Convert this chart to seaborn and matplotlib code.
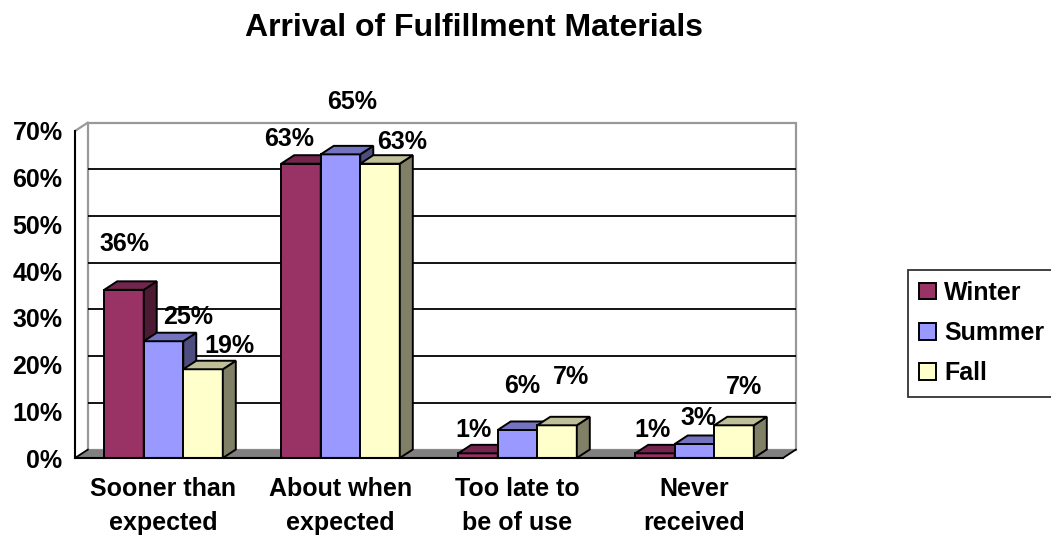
import numpy as np
import pandas as pd
import matplotlib
matplotlib.use("Agg")
import matplotlib.pyplot as plt
import seaborn as sns
from matplotlib.patches import Polygon, Rectangle, Patch

# ==========================================
# DATA
# ==========================================
CATEGORIES = ["Sooner than\nexpected", "About when\nexpected", "Too late to\nbe of use", "Never\nreceived"]
SEASONS = ["Winter", "Summer", "Fall"]
WINTER = [36, 63, 1, 1]
SUMMER = [25, 65, 6, 3]
FALL = [19, 63, 7, 7]
Y_TICKS = [0, 10, 20, 30, 40, 50, 60, 70]

# ==========================================
# STYLE
# ==========================================
COLORS = {"Winter": "#993366", "Summer": "#9999ff", "Fall": "#ffffcc"}
DEPTH_PX = (13, 8.5)          # 3D depth offset in pixels (right, up)
# label offsets from (bar centre, bar top) in pixels, per season per category
LABEL_OFFSETS = {
    "Winter": [(1, 46), (-12, 25), (-4, 23), (-2, 23)],
    "Summer": [(25, 24), (12, 52), (5, 44), (4, 26)],
    "Fall":   [(26, 23), (22, 22), (14, 48), (10, 38)],
}
FS = 18

sns.set_style("white")
plt.rcParams["font.family"] = ["Liberation Sans", "DejaVu Sans"]
plt.rcParams["font.weight"] = "bold"
plt.rcParams["text.color"] = "black"
plt.rcParams["xtick.color"] = "black"
plt.rcParams["ytick.color"] = "black"
plt.rcParams["axes.labelcolor"] = "black"


def shade(hex_color, f):
    r, g, b = matplotlib.colors.to_rgb(hex_color)
    return (r * f, g * f, b * f)


def main():
    df = pd.DataFrame({
        "Category": CATEGORIES * 3,
        "Season": np.repeat(SEASONS, len(CATEGORIES)),
        "Value": WINTER + SUMMER + FALL,
    })

    W, H = 1051, 538
    fig = plt.figure(figsize=(W / 100, H / 100), dpi=100)
    ax = fig.add_axes([75 / W, 1 - 458 / H, 708 / W, 327 / H])
    ax.patch.set_visible(False)

    sns.barplot(data=df, x="Category", y="Value", hue="Season",
                order=CATEGORIES, hue_order=SEASONS, palette=COLORS,
                saturation=1, width=0.67, edgecolor="black", linewidth=1.4,
                legend=False, ax=ax)

    xmin, xmax = -0.5, len(CATEGORIES) - 0.5
    ymin, ymax = Y_TICKS[0], Y_TICKS[-1]
    ax.set_xlim(xmin, xmax)
    ax.set_ylim(ymin, ymax)

    # pixel -> data conversion for the depth offset
    dxu = DEPTH_PX[0] * (xmax - xmin) / 708
    dyu = DEPTH_PX[1] * (ymax - ymin) / 327

    # back wall + floor
    ax.add_patch(Rectangle((xmin + dxu, ymin + dyu), xmax - xmin, ymax - ymin,
                           facecolor="white", edgecolor="#999999", lw=1.6,
                           clip_on=False, zorder=0.2))
    ax.hlines([v + dyu for v in Y_TICKS[1:-1]], xmin + dxu, xmax + dxu,
              color="black", lw=1.3, clip_on=False, zorder=0.3)
    ax.add_patch(Polygon([(xmin, ymin), (xmax, ymin), (xmax + dxu, ymin + dyu),
                          (xmin + dxu, ymin + dyu)], closed=True,
                         facecolor="#808080", edgecolor="none",
                         clip_on=False, zorder=0.4))
    ax.plot([xmin, xmin + dxu], [ymin, ymin + dyu], color="black", lw=1.3,
            clip_on=False, zorder=0.5)
    ax.plot([xmax, xmax + dxu], [ymin, ymin + dyu], color="black", lw=1.3,
            clip_on=False, zorder=0.5)
    ax.plot([xmin, xmin + dxu], [ymax, ymax + dyu], color="#999999", lw=1.6,
            clip_on=False, zorder=0.5)

    # 3D faces for every bar + data labels
    for i, (season, cont) in enumerate(zip(SEASONS, ax.containers)):
        z = 2 + i
        base = COLORS[season]
        for j, bar in enumerate(cont):
            bar.set_zorder(z)
            x0 = bar.get_x()
            x1 = x0 + bar.get_width()
            h = bar.get_height()
            top = Polygon([(x0, h), (x1, h), (x1 + dxu, h + dyu), (x0 + dxu, h + dyu)],
                          closed=True, facecolor=shade(base, 0.75),
                          edgecolor="black", lw=1.4, zorder=z, clip_on=False)
            side = Polygon([(x1, 0), (x1 + dxu, dyu), (x1 + dxu, h + dyu), (x1, h)],
                           closed=True, facecolor=shade(base, 0.5),
                           edgecolor="black", lw=1.4, zorder=z, clip_on=False)
            ax.add_patch(side)
            ax.add_patch(top)
            ox, oy = LABEL_OFFSETS[season][j]
            ax.annotate(f"{h:.0f}%", xy=(x0 + bar.get_width() / 2, h),
                        xytext=(ox, oy), textcoords="offset pixels",
                        ha="center", va="center", fontsize=FS, color="black",
                        fontweight="bold", zorder=10, annotation_clip=False)

    # axes
    for s in ["top", "right"]:
        ax.spines[s].set_visible(False)
    for s in ["left", "bottom"]:
        ax.spines[s].set_color("black")
        ax.spines[s].set_linewidth(1.5)
        ax.spines[s].set_zorder(6)

    ax.set_yticks(Y_TICKS)
    ax.set_yticklabels([f"{v}%" for v in Y_TICKS])
    ax.tick_params(axis="y", length=7, width=1.5, labelsize=FS, pad=2,
                   color="black", labelcolor="black")
    ax.set_xticks(range(len(CATEGORIES)))
    ax.set_xticklabels(CATEGORIES, linespacing=1.5)
    ax.set_xticks(np.arange(xmin, xmax + 0.01, 1.0), minor=True)
    ax.tick_params(axis="x", which="major", length=0, labelsize=FS, pad=14,
                   labelcolor="black")
    ax.tick_params(axis="x", which="minor", length=8, width=1.5, color="black")
    for lbl in ax.get_xticklabels() + ax.get_yticklabels():
        lbl.set_fontweight("bold")
    ax.set_xlabel("")
    ax.set_ylabel("")

    fig.text(474 / W, 1 - 28 / H, "Arrival of Fulfillment Materials",
             ha="center", va="center", fontsize=23, fontweight="bold",
             color="black")

    handles = [Patch(facecolor=COLORS[s], edgecolor="black", lw=1.4, label=s) for s in SEASONS]
    leg = fig.legend(handles=handles, loc="center left",
                     bbox_to_anchor=(908 / W, 1 - 333 / H),
                     prop={"size": FS, "weight": "bold"},
                     frameon=True, fancybox=False, edgecolor="black",
                     handlelength=0.65, handleheight=0.65, handletextpad=0.35,
                     labelspacing=0.65, borderpad=0.45, borderaxespad=0)
    leg.get_frame().set_linewidth(1.3)
    for t in leg.get_texts():
        t.set_color("black")

    fig.savefig("out.png", dpi=100)


if __name__ == "__main__":
    main()
